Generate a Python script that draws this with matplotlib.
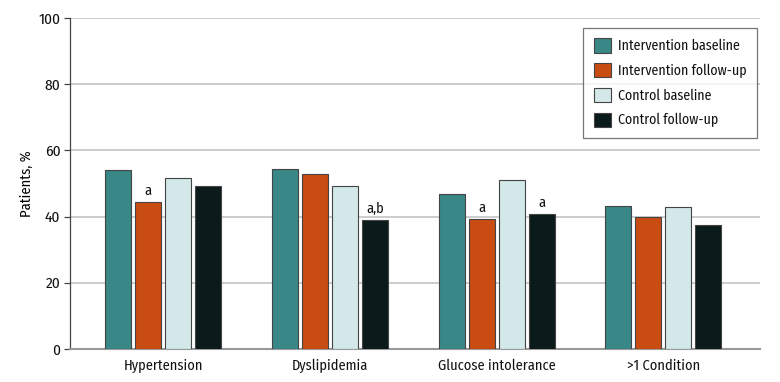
import numpy as np
import matplotlib
matplotlib.use("Agg")
import matplotlib.pyplot as plt
from matplotlib import font_manager

# pick a narrow sans that is installed
available = set(f.name for f in font_manager.fontManager.ttflist)
stretch = 'normal'
family = 'DejaVu Sans'
for name in ['Fira Sans Condensed', 'Roboto Condensed', 'PT Sans Narrow', 'Source Sans 3',
             'Source Sans Pro', 'Liberation Sans Narrow']:
    if name in available:
        family = name
        break
else:
    if 'Open Sans' in available:
        family = 'Open Sans'
        stretch = 'condensed'
plt.rcParams['font.family'] = [family, 'DejaVu Sans']
plt.rcParams['font.stretch'] = stretch
plt.rcParams['text.color'] = '#111111'
plt.rcParams['xtick.color'] = '#111111'
plt.rcParams['ytick.color'] = '#111111'

categories = ['Hypertension', 'Dyslipidemia', 'Glucose intolerance', '>1 Condition']
series_names = ['Intervention baseline', 'Intervention follow-up', 'Control baseline', 'Control follow-up']
int_base = [54.2, 54.3, 46.7, 43.1]
int_follow = [44.3, 52.9, 39.2, 39.8]
ctl_base = [51.6, 49.2, 51.0, 42.8]
ctl_follow = [49.2, 39.0, 40.7, 37.6]
# significance marks per (series, category)
marks = {(1, 0): 'a', (3, 1): 'a,b', (1, 2): 'a', (3, 2): 'a'}

colors = ['#3a8787', '#c94c12', '#d3e8e8', '#0b1a1a']
values = [int_base, int_follow, ctl_base, ctl_follow]

fig = plt.figure(figsize=(7.8, 3.82), dpi=100)
ax = fig.add_axes([70 / 780, 33 / 382, 690 / 780, 331 / 382])

x = np.arange(len(categories))
width = 0.156
step = 0.18
for i, (vals, col) in enumerate(zip(values, colors)):
    pos = x + (i - 1.5) * step
    ax.bar(pos, vals, width, color=col, edgecolor='#444444', linewidth=0.8,
           label=series_names[i], zorder=3)
    for j, v in enumerate(vals):
        if (i, j) in marks:
            ax.text(pos[j], v + 1.2, marks[(i, j)], ha='center', va='bottom',
                    fontsize=10.3, zorder=4)

ax.set_ylim(0, 100)
ax.set_xlim(-0.56, 3.58)
ax.set_yticks(range(0, 101, 20))
ax.set_xticks(x)
ax.set_xticklabels(categories)
ax.set_ylabel('Patients, %', fontsize=10.5, labelpad=3)
ax.yaxis.grid(True, color='#c4c4c4', linewidth=1.2, zorder=0)
ax.set_axisbelow(True)
for s in ['top', 'right']:
    ax.spines[s].set_visible(False)
ax.spines['left'].set_color('#444444')
ax.spines['left'].set_linewidth(0.9)
ax.spines['bottom'].set_color('#999999')
ax.spines['bottom'].set_linewidth(1.5)
ax.tick_params(axis='y', labelsize=11, color='#444444', length=4, width=0.9, pad=3)
ax.tick_params(axis='x', labelsize=10.3, length=0, pad=7)

leg = ax.legend(loc='upper right', bbox_to_anchor=(0.996, 0.97), fontsize=10,
                frameon=True, fancybox=False, edgecolor='#555555',
                handlelength=1.2, handleheight=1.2, borderpad=0.75,
                labelspacing=0.72, handletextpad=0.55, borderaxespad=0)
leg.get_frame().set_linewidth(0.9)

fig.savefig('out.png', dpi=100)
